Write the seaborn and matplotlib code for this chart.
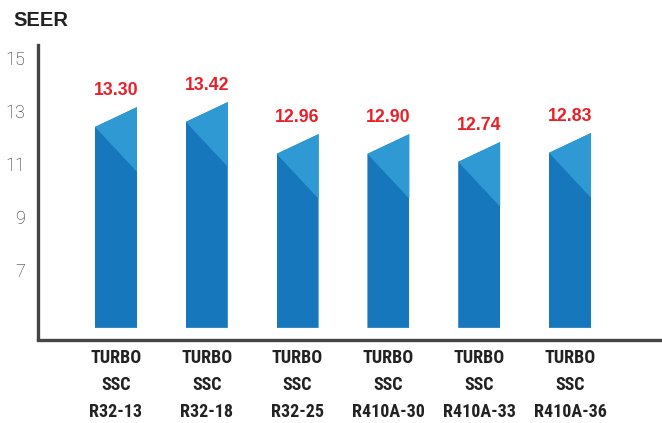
import matplotlib
matplotlib.use("Agg")
import matplotlib.pyplot as plt
from matplotlib.patches import Polygon
import seaborn as sns
import pandas as pd

# ---- data ----
models = ["TURBO\nSSC\nR32-13", "TURBO\nSSC\nR32-18", "TURBO\nSSC\nR32-25",
          "TURBO\nSSC\nR410A-30", "TURBO\nSSC\nR410A-33", "TURBO\nSSC\nR410A-36"]
seer_labels = ["13.30", "13.42", "12.96", "12.90", "12.74", "12.83"]
bar_heights = [13.15, 13.34, 12.13, 12.13, 11.83, 12.17]   # drawn height (right edge of bar top)
y_ticks = [7, 9, 11, 13, 15]

DARK = "#1677bd"
LIGHT = "#2f99d4"
RED = "#e8202a"
AXIS = "#454545"
TEXT = "#222222"

sns.set_theme(style="white")
plt.rcParams["font.family"] = ["Liberation Sans", "DejaVu Sans"]

fig = plt.figure(figsize=(6.62, 4.23), dpi=100)
ax = fig.add_axes([38 / 662, 1 - 339.5 / 423, 1 - 38 / 662, (339.5 - 45) / 423])

df = pd.DataFrame({"model": models, "height": bar_heights})
sns.barplot(data=df, x="model", y="height", order=models, color=DARK,
            width=0.4625, saturation=1, linewidth=0, ax=ax)

base = 4.8
slant = 0.75
diag = 2.45
for p in ax.patches:
    x0 = p.get_x()
    x1 = x0 + p.get_width()
    top = p.get_y() + p.get_height()
    clip = Polygon([(x0, base), (x0, top - slant), (x1, top), (x1, base)],
                   closed=True, transform=ax.transData, facecolor="none", edgecolor="none")
    p.set_clip_path(clip)
    tri = Polygon([(x0, top - slant), (x1, top), (x1, top - diag)], closed=True,
                  facecolor=LIGHT, edgecolor="none", zorder=p.get_zorder() + 0.1)
    ax.add_patch(tri)

ax.bar_label(ax.containers[0], labels=seer_labels, padding=6, color=RED,
             fontsize=12.8, fontweight="bold", family=["Liberation Sans", "DejaVu Sans"])

ax.set_xlim(-0.859, 6.013)
ax.set_ylim(4.36, 15.5)
ax.set_yticks(y_ticks)
ax.set_yticklabels([str(t) for t in y_ticks], fontsize=13, color=TEXT,
                   family=["Roboto", "DejaVu Sans"], fontweight="light")
ax.tick_params(axis="y", length=0, pad=9.5)
ax.tick_params(axis="x", length=0, pad=7)
for lab in ax.get_xticklabels():
    lab.set_fontfamily(["Roboto Condensed", "DejaVu Sans"])
    lab.set_fontweight("bold")
    lab.set_fontsize(13)
    lab.set_color(TEXT)
    lab.set_linespacing(1.62)
    lab.set_verticalalignment("top")
ax.set_xlabel("")
ax.set_ylabel("")

for side in ["top", "right"]:
    ax.spines[side].set_visible(False)
for side in ["left", "bottom"]:
    ax.spines[side].set_color(AXIS)
    ax.spines[side].set_linewidth(2.4)

fig.text(13 / 662, 1 - 20 / 423, "SEER", fontsize=14.5, fontweight="bold",
         color=TEXT, va="center", ha="left")

fig.savefig("out.png", dpi=100)
